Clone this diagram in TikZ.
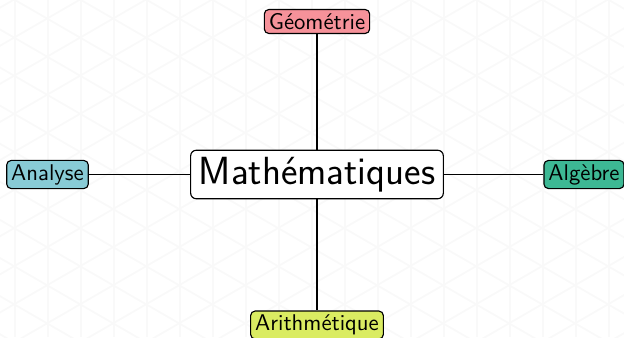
\documentclass[tikz,border=0pt]{standalone}
\usepackage{tikz}
\definecolor{geo}{RGB}{246,146,154}
\definecolor{ana}{RGB}{136,203,214}
\definecolor{alg}{RGB}{61,184,148}
\definecolor{ari}{RGB}{218,236,98}
\tikzset{
  topic/.style={draw=black,line width=.5pt,rounded corners=2pt,inner xsep=2pt,inner ysep=1.7pt,font=\sffamily},
  hub/.style={draw=black,line width=.5pt,fill=white,rounded corners=2.5pt,inner xsep=3.6pt,inner ysep=3pt,font=\sffamily\LARGE},
  link/.style={black,line width=.5pt}
}

\begin{document}
\begin{tikzpicture}[x=.44pt,y=.44pt]
\useasboundingbox (0,0) rectangle (624,337);
\begin{scope}
\clip (0,0) rectangle (624,337);
\foreach \k in {0,...,18} {\draw[gray!5,line width=.8pt] ({15+33*\k},0)--({15+33*\k},337);}
\foreach \m in {-10,...,30} {
  \draw[gray!5,line width=.8pt] (-51,{337-38.1*(\m-1)})--++(760,{-760/sqrt(3)});
  \draw[gray!5,line width=.8pt] (-51,{337-38.1*(\m+1)-380})--++(760,{760/sqrt(3)});
}
\end{scope}
\node[hub] (maths) at (317,162.5) {Math\'ematiques};
\node[topic,fill=geo] (geometrie) at (317,315.5) {G\'eom\'etrie};
\node[topic,fill=ana] (analyse) at (47.5,162.5) {Analyse};
\node[topic,fill=alg] (algebre) at (584,162.5) {Alg\`ebre};
\node[topic,fill=ari] (arith) at (317,12) {Arithm\'etique};
\draw[link] (maths)--(geometrie);
\draw[link] (maths)--(analyse);
\draw[link] (maths)--(algebre);
\draw[link] (maths)--(arith);
\end{tikzpicture}
\end{document}
